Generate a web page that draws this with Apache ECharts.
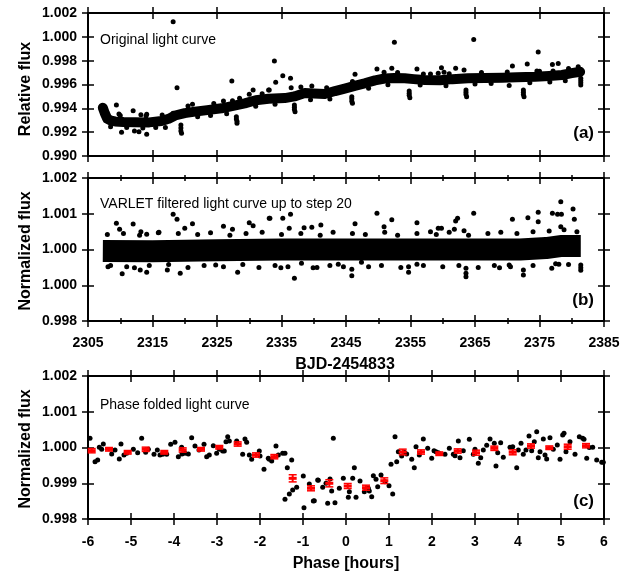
<!DOCTYPE html>
<html><head><meta charset="utf-8">
<script src="https://cdn.jsdelivr.net/npm/echarts@6/dist/echarts.min.js"></script>
<style>html,body{margin:0;padding:0;background:#fff}#c{width:635px;height:576px}</style>
</head><body><div id="c"></div>
<script>
// ---------- DATA ----------
const T0 = 2305; // BJD-2454833 axis origin
const xTicksBJD = [2305, 2315, 2325, 2335, 2345, 2355, 2365, 2375, 2385];
const yLabelsA = ['0.990', '0.992', '0.994', '0.996', '0.998', '1.000', '1.002'];
const yLabelsB = ['0.998', '1.000', '1.000', '1.001', '1.002'];
const yLabelsC = ['0.998', '0.999', '1.000', '1.001', '1.002'];
const xLabelsC = ['-6', '-5', '-4', '-3', '-2', '-1', '0', '1', '2', '3', '4', '5', '6'];

// (a) dense band centre (original light curve)
const bandA_t = [2307.3, 2307.6, 2308.0, 2308.6, 2309.2, 2310.5, 2312.3, 2314.5, 2316.4, 2317.5, 2318.5, 2320.0, 2321.6, 2323.5, 2325.7, 2327.5, 2329.3, 2331.0, 2333.0, 2335.5, 2337.0, 2338.6, 2340.0, 2341.7, 2343.3, 2344.8, 2346.5, 2347.9, 2349.5, 2351.0, 2352.5, 2354.1, 2355.5, 2357.2, 2359.6, 2361.5, 2363.9, 2366.5, 2369.2, 2371.5, 2374.3, 2376.5, 2378.5, 2380.0, 2381.3];
const bandA_f = [0.99405, 0.99360, 0.99312, 0.99296, 0.99290, 0.99285, 0.99283, 0.99282, 0.99294, 0.99312, 0.99340, 0.99360, 0.99372, 0.99385, 0.99400, 0.99420, 0.99442, 0.99468, 0.99480, 0.99486, 0.99500, 0.99528, 0.99525, 0.99520, 0.99545, 0.99566, 0.99590, 0.99610, 0.99635, 0.99650, 0.99655, 0.99652, 0.99645, 0.99638, 0.99636, 0.99645, 0.99652, 0.99655, 0.99657, 0.99660, 0.99665, 0.99672, 0.99680, 0.99695, 0.99707];
// (a) individual points (outliers, transit dips, band edges)
const ptsA_t = [2318.2, 2318.8, 2327.3, 2309.4, 2309.8, 2312.0, 2313.2, 2314.1, 2318.2, 2321.2, 2326.0, 2327.4, 2330.0, 2330.6, 2333.0, 2310.2, 2312.2, 2312.9, 2314.1,
  2333.9, 2352.5, 2333.1, 2334.1, 2335.2, 2336.4, 2336.5, 2339.7, 2346.4, 2349.8, 2350.9, 2352.1, 2356.0, 2358.1, 2359.3,
  2364.8, 2374.8, 2370.8, 2373.1, 2377.0, 2377.9, 2359.8, 2360.2, 2362.0, 2363.3, 2374.6, 2377.1,
  2319.4, 2319.4, 2319.4, 2319.5, 2328.0, 2328.0, 2328.1, 2328.1, 2337.0, 2337.0, 2337.0, 2337.1, 2345.9, 2345.9, 2345.9, 2346.0,
  2354.8, 2354.8, 2354.8, 2354.9, 2363.6, 2363.6, 2363.6, 2363.7, 2372.5, 2372.5, 2372.5, 2372.6, 2381.4, 2381.4, 2381.4, 2381.4,
  2308.5, 2311.0, 2313.5, 2315.5, 2317.0, 2322.0, 2324.0, 2326.5, 2331.0, 2334.0, 2339.5, 2342.5, 2348.5, 2351.5, 2356.5, 2360.5, 2365.0, 2367.5, 2370.3, 2373.5, 2376.6, 2379.0,
  2310.0, 2314.0, 2316.5, 2320.5, 2324.5, 2328.5, 2332.0, 2338.0, 2342.0, 2346.0, 2353.0, 2357.0, 2361.0, 2366.0, 2370.0, 2375.0, 2379.5, 2381.0];
const ptsA_f = [1.00127, 0.99573, 0.99629, 0.99428, 0.99352, 0.99380, 0.99347, 0.99350, 0.99358, 0.99434, 0.99461, 0.99464, 0.99518, 0.99554, 0.99554, 0.99199, 0.99210, 0.99204, 0.99182,
  0.99797, 0.99954, 0.99554, 0.99618, 0.99674, 0.99652, 0.99573, 0.99587, 0.99686, 0.99730, 0.99702, 0.99736, 0.99730, 0.99688, 0.99694,
  0.99977, 0.99873, 0.99756, 0.99773, 0.99767, 0.99776, 0.99741, 0.99702, 0.99736, 0.99722, 0.99713, 0.99713,
  0.99260, 0.99235, 0.99210, 0.99190, 0.99330, 0.99310, 0.99292, 0.99274, 0.99428, 0.99410, 0.99390, 0.99372, 0.99498, 0.99480, 0.99460, 0.99442,
  0.99545, 0.99527, 0.99510, 0.99489, 0.99554, 0.99535, 0.99516, 0.99498, 0.99554, 0.99535, 0.99516, 0.99498, 0.99652, 0.99633, 0.99615, 0.99596,
  0.99245, 0.99240, 0.99235, 0.99240, 0.99240, 0.99330, 0.99340, 0.99355, 0.99418, 0.99435, 0.99472, 0.99478, 0.99568, 0.99598, 0.99595, 0.99590, 0.99605, 0.99608, 0.99592, 0.99615, 0.99620, 0.99632,
  0.99340, 0.99335, 0.99345, 0.99420, 0.99440, 0.99485, 0.99522, 0.99580, 0.99572, 0.99625, 0.99700, 0.99688, 0.99690, 0.99700, 0.99705, 0.99712, 0.99735, 0.99750];

// (b) dense band centre (VARLET filtered)
const bandB_t = [2307.3, 2315.0, 2325.0, 2335.0, 2345.0, 2355.0, 2365.0, 2372.0, 2376.0, 2378.5, 2381.4];
const bandB_f = [0.99996, 0.99995, 0.99998, 1.00000, 1.00000, 1.00000, 1.00000, 1.00000, 1.00004, 1.00010, 1.00010];
// (b) individual points
const ptsB_t = [2309.4, 2318.2, 2318.8, 2309.9, 2312.0, 2313.2, 2314.1, 2315.9, 2320.0, 2321.2, 2326.0, 2327.4, 2330.0, 2330.6, 2333.1,
  2310.3, 2308.1, 2312.2, 2313.1, 2314.1, 2317.3, 2319.3, 2328.2, 2324.8,
  2337.0, 2333.2, 2335.2, 2336.4, 2336.2, 2338.5, 2339.7, 2341.1, 2346.4, 2349.8, 2350.9, 2352.1, 2356.0, 2358.1, 2359.3,
  2334.9, 2338.1, 2339.9, 2343.8, 2344.6, 2345.9, 2345.9, 2347.4, 2354.7, 2354.7, 2356.0,
  2364.8, 2378.3, 2380.2, 2374.8, 2377.0, 2377.8, 2378.4, 2373.2, 2370.8, 2374.8, 2380.4, 2378.3, 2362.3, 2362.0, 2359.8, 2361.8, 2363.3,
  2363.6, 2363.6, 2363.6, 2368.8, 2370.3, 2372.5, 2372.5, 2376.9, 2378.0, 2381.4, 2381.4, 2381.4,
  2308.0, 2310.5, 2313.0, 2316.0, 2319.0, 2322.0, 2324.0, 2327.0, 2329.5, 2332.0, 2335.0, 2338.0, 2341.0, 2343.0, 2346.0, 2348.0, 2351.0, 2353.0, 2356.0, 2359.0, 2361.0, 2364.0, 2367.0, 2369.0, 2371.5, 2374.0, 2376.5, 2378.8, 2380.8,
  2308.5, 2311.0, 2314.5, 2317.5, 2320.5, 2323.0, 2326.0, 2329.0, 2331.5, 2334.0, 2336.0, 2340.5, 2342.5, 2348.5, 2350.5, 2353.5, 2357.0, 2360.0, 2362.5, 2365.5, 2368.0, 2370.5, 2374.0, 2377.5, 2379.5];
const ptsB_f = [1.000733, 1.000985, 1.000845, 1.000565, 1.000713, 1.000498, 1.000425, 1.000470, 1.000593, 1.000722, 1.000648, 1.000565, 1.000750, 1.000666, 1.000873,
  0.999323, 0.999519, 0.999491, 0.999427, 0.999362, 0.999427, 0.999334, 0.999362, 0.999566,
  0.999194, 1.000873, 1.000873, 1.000985, 1.000593, 1.000610, 1.000620, 1.000685, 1.000722, 1.001013, 1.000638, 1.000834, 1.000750, 1.000498, 1.000593,
  0.999491, 0.999614, 0.999491, 0.999586, 0.999519, 0.999446, 0.999267, 0.999642, 0.999519, 0.999362, 0.999586,
  1.001013, 1.001337, 1.001133, 1.001040, 1.001013, 1.000985, 1.000985, 1.000889, 1.000845, 1.000778, 1.000845, 1.000638, 1.000873, 1.000797, 1.000593, 1.000565, 1.000526,
  0.999474, 0.999334, 0.999240, 0.999491, 0.999566, 0.999427, 0.999287, 0.999474, 0.999586, 0.999566, 0.999491, 0.999420,
  1.00042, 1.00045, 1.00040, 1.00048, 1.00045, 1.00042, 1.00047, 1.00040, 1.00045, 1.00048, 1.00042, 1.00045, 1.00040, 1.00048, 1.00045, 1.00042, 1.00048, 1.00040, 1.00045, 1.00042, 1.00048, 1.00040, 1.00045, 1.00048, 1.00045, 1.00050, 1.00052, 1.00055, 1.00050,
  0.99955, 0.99952, 0.99955, 0.99958, 0.99950, 0.99955, 0.99952, 0.99958, 0.99950, 0.99955, 0.99952, 0.99950, 0.99955, 0.99952, 0.99955, 0.99950, 0.99955, 0.99952, 0.99955, 0.99950, 0.99955, 0.99952, 0.99955, 0.99960, 0.99958];

// (c) phase folded points
const phaseC = [-5.953, -5.837, -5.775, -5.737, -5.644, -5.682, -5.449, -5.372, -5.272, -5.233, -5.163, -5.100, -4.946, -4.845, -4.752, -4.659, -4.597, -4.465, -4.388, -4.326, -4.263, -4.170, -4.077, -3.977, -3.899, -3.822, -3.814, -3.744, -3.667, -3.589, -3.512, -3.419, -3.302, -3.240, -3.179, -3.086, -3.008, -2.946, -2.868, -2.830, -2.751, -2.791, -2.713, -2.542, -2.403, -2.349, -2.310, -2.248, -2.194, -2.016, -2.000, -1.907, -1.807, -1.784, -1.728, -1.628, -1.574, -1.473, -1.419, -1.365, -1.263, -1.419, -1.318, -1.240, -1.147, -0.993, -0.977, -0.853, -0.760, -0.658,
  -0.737, -0.644, -0.542, -0.465, -0.426, -0.372, -0.333, -0.256, -0.295, -0.155, -0.062, 0.054, 0.078, 0.156, 0.194, 0.233, 0.326, 0.426, 0.519, 0.542, 0.598, 0.636, 0.698, 0.737, 0.814, 0.907, 1.000, 1.086, 1.047, 1.140, 1.179, 1.217, 1.295, 1.356, 1.411, 1.528, 1.588, 1.628, 1.705, 1.798, 1.900, 1.993, 2.047, 2.093, 2.147, 2.302, 2.403, 2.496, 2.535, 2.612, 2.651, 2.728, 2.868, 2.961, 3.000, 3.077, 3.133, 3.193, 3.272, 3.349, 3.449, 3.488, 3.528, 3.597, 3.658, 3.814, 3.877, 3.970, 4.007, 4.070, 4.123, 4.186, 4.256, 4.318, 4.379, 4.435, 4.472, 4.512, 4.589, 4.628, 4.667, 4.744, 4.821, 4.914, 4.977, 5.039, 5.070, 5.116, 5.209, 5.326, 5.426, 5.505, 5.535, 5.598, 5.658, 5.737, 5.830, 5.947, 5.984];
const fluxC = [1.000257, 0.999604, 0.999650, 1.000004, 1.000098, 0.999950, 0.999818, 0.999930, 0.999678, 1.000098, 0.999790, 0.999837, 0.999950, 0.999855, 1.000257, 0.999866, 0.999950, 0.999810, 0.999930, 0.999790, 0.999810, 0.999810, 1.000090, 1.000145, 0.999743, 1.000004, 0.999818, 0.999837, 0.999818, 1.000274, 1.000042, 0.999930, 1.000090, 0.999743, 0.999790, 1.000050, 0.999837, 0.999950, 0.999902, 0.999902, 1.000302, 1.000162, 1.000182, 1.000182, 0.999810, 1.000238, 1.000145, 0.999790, 0.999670, 0.999902, 0.999762, 0.999390, 0.999698, 0.999670, 0.999622, 1.000042, 0.999790, 0.999837, 0.999837, 0.999435, 0.999650, 0.998551, 0.998699, 0.998811, 0.998886, 0.999203, 0.998316, 0.998979, 0.998503, 0.999091,
  0.998512, 0.999082, 0.998886, 0.998999, 0.998439, 0.999119, 0.998783, 0.998456, 1.000257, 0.998859, 0.999138, 0.998607, 0.998764, 0.999138, 0.999435, 0.998607, 0.999063, 0.998764, 0.998859, 0.998783, 0.998624, 0.999211, 0.999110, 0.998903, 0.999231, 0.999043, 0.998931, 0.998699, 0.999530, 1.000302, 0.999604, 0.999883, 0.999762, 0.999866, 0.999818, 0.999670, 0.999435, 1.000022, 0.999790, 1.000238, 0.999978, 0.999698, 0.999911, 0.999883, 0.999855, 0.999810, 0.999978, 0.999810, 0.999771, 1.000182, 0.999715, 0.999911, 1.000229, 0.999810, 0.999950, 0.999558, 0.999715, 0.999930, 1.000062, 1.000238, 1.000118, 0.999483, 0.999855, 1.000134, 0.999726, 1.000004, 1.000022, 0.999435, 0.999930, 1.000118, 0.999810, 0.999930, 1.000322, 0.999911, 1.000162, 1.000442, 0.999715, 0.999883, 1.000238, 0.999790, 0.999678, 1.000274, 0.999950, 1.000070, 0.999670, 1.000350, 1.000397, 0.999883, 1.000162, 0.999810, 1.000302, 1.000257, 1.000229, 0.999698, 1.000000, 1.000004, 0.999650, 0.999586, 0.999586];
// (c) binned means with error bars (red)
const binPhase = [-5.914, -5.512, -5.077, -4.658, -4.226, -3.798, -3.372, -2.947, -2.519, -2.093, -1.667, -1.240, -0.814, -0.388, 0.040, 0.465, 0.891, 1.319, 1.744, 2.170, 2.598, 3.023, 3.449, 3.877, 4.302, 4.728, 5.156, 5.581];
const binFlux = [0.999911, 0.999950, 0.999866, 0.999950, 0.999866, 0.999930, 0.999950, 1.000006, 1.000098, 0.999790, 0.999743, 0.999138, 0.998859, 0.998999, 0.998923, 0.998876, 0.999071, 0.999874, 0.999874, 0.999827, 0.999902, 0.999855, 0.999978, 0.999866, 1.000042, 0.999994, 1.000022, 1.000050];
const binErr = [0.00006, 0.00005, 0.00005, 0.00006, 0.00005, 0.00006, 0.00005, 0.00005, 0.00006, 0.00006, 0.00006, 0.00010, 0.00007, 0.00010, 0.00007, 0.00007, 0.00008, 0.00008, 0.00006, 0.00005, 0.00006, 0.00007, 0.00006, 0.00007, 0.00006, 0.00005, 0.00007, 0.00006];

// ---------- BUILD ----------
const FONT = 'Liberation Sans, Arial, Helvetica, sans-serif';
const zip = (a, b, off) => a.map((v, i) => [v - (off || 0), b[i]]);

const grids = [
  {left: 88, top: 13, width: 516, height: 143},
  {left: 88, top: 178, width: 516, height: 143},
  {left: 88, top: 376, width: 516, height: 143}
];

const xAxes = [], yAxes = [];
function addAxes(list, g, base, pos, showLabel, labelFmt, margin, minor) {
  const opp = {bottom: 'top', left: 'right'}[pos];
  const tickStyle = {color: '#000', width: 1.5};
  const mk = (p, inside, line, label) => Object.assign({
    gridIndex: g, type: 'value', position: p,
    axisLine: {show: line, onZero: false, lineStyle: {color: '#000', width: 2}},
    axisTick: {show: true, inside: inside, length: 6, lineStyle: tickStyle},
    minorTick: {show: minor, splitNumber: 2, length: 3, lineStyle: tickStyle},
    splitLine: {show: false},
    axisLabel: {show: label, margin: margin, formatter: labelFmt,
      fontFamily: FONT, fontSize: 14, fontWeight: 'bold', color: '#000'}
  }, base);
  list.push(mk(pos, false, true, showLabel));
  list.push(mk(pos, true, false, false));
  list.push(mk(opp, false, true, false));
  list.push(mk(opp, true, false, false));
}
const bjdX = {min: 0, max: 80, interval: 10};
const bjdFmt = v => String(xTicksBJD[Math.round(v / 10)]);
addAxes(xAxes, 0, bjdX, 'bottom', false, bjdFmt, 15, false);
addAxes(yAxes, 0, {min: 0.990, max: 1.002, interval: 0.002}, 'left', true,
  v => yLabelsA[Math.round((v - 0.990) / 0.002)], 11, false);
addAxes(xAxes, 1, bjdX, 'bottom', true, bjdFmt, 15, true);
addAxes(yAxes, 1, {min: 0.998, max: 1.002, interval: 0.001}, 'left', true,
  v => yLabelsB[Math.round((v - 0.998) / 0.001)], 11, false);
addAxes(xAxes, 2, {min: -6, max: 6, interval: 1}, 'bottom', true,
  v => xLabelsC[Math.round(v + 6)], 16, false);
addAxes(yAxes, 2, {min: 0.998, max: 1.002, interval: 0.001}, 'left', true,
  v => yLabelsC[Math.round((v - 0.998) / 0.001)], 11, false);

const dot = {color: '#000', opacity: 1};
const series = [
  {type: 'line', xAxisIndex: 0, yAxisIndex: 0, data: zip(bandA_t, bandA_f, T0), showSymbol: false, symbol: 'none',
    lineStyle: {color: '#000', width: 10, cap: 'round', join: 'round', opacity: 1}, z: 2, silent: true},
  {type: 'scatter', xAxisIndex: 0, yAxisIndex: 0, data: zip(ptsA_t, ptsA_f, T0), symbolSize: 5,
    itemStyle: dot, z: 3, silent: true},
  {type: 'line', xAxisIndex: 4, yAxisIndex: 4, data: zip(bandB_t, bandB_f, T0), showSymbol: false, symbol: 'none',
    lineStyle: {color: '#000', width: 22, cap: 'butt', join: 'round', opacity: 1}, z: 2, silent: true},
  {type: 'scatter', xAxisIndex: 4, yAxisIndex: 4, data: zip(ptsB_t, ptsB_f, T0), symbolSize: 5,
    itemStyle: dot, z: 3, silent: true},
  {type: 'scatter', xAxisIndex: 8, yAxisIndex: 8, data: zip(phaseC, fluxC), symbolSize: 5,
    itemStyle: dot, z: 3, silent: true},
  {type: 'custom', xAxisIndex: 8, yAxisIndex: 8, z: 4, silent: true,
    data: binPhase.map((p, i) => [p, binFlux[i], binErr[i]]),
    encode: {x: 0, y: 1},
    renderItem: function (params, api) {
      const x = api.value(0), y = api.value(1), e = api.value(2);
      const t = api.coord([x, y + e]), b = api.coord([x, y - e]), c = api.coord([x, y]);
      const hw = 4, col = '#ff0000';
      return {type: 'group', children: [
        {type: 'line', shape: {x1: t[0], y1: t[1], x2: b[0], y2: b[1]}, style: {stroke: col, lineWidth: 2}},
        {type: 'line', shape: {x1: t[0] - hw, y1: t[1], x2: t[0] + hw, y2: t[1]}, style: {stroke: col, lineWidth: 1.5}},
        {type: 'line', shape: {x1: b[0] - hw, y1: b[1], x2: b[0] + hw, y2: b[1]}, style: {stroke: col, lineWidth: 1.5}},
        {type: 'rect', shape: {x: c[0] - hw, y: c[1] - 1.5, width: 2 * hw, height: 3}, style: {fill: col}}
      ]};
    }}
];

const txt = (x, y, text, size, weight, align, rot) => ({
  type: 'text', x: x, y: y, rotation: rot || 0, silent: true,
  style: {text: text, fontFamily: FONT, fontSize: size, fontWeight: weight, fill: '#000',
    align: align || 'left', verticalAlign: 'middle'}
});
const graphic = [
  txt(100, 40, 'Original light curve', 14, 'normal'),
  txt(100, 204, 'VARLET filtered light curve up to step 20', 14, 'normal'),
  txt(100, 405, 'Phase folded light curve', 14, 'normal'),
  txt(594, 133, '(a)', 17, 'bold', 'right'),
  txt(594, 300, '(b)', 17, 'bold', 'right'),
  txt(594, 501, '(c)', 17, 'bold', 'right'),
  txt(26, 89, 'Relative flux', 16, 'bold', 'center', Math.PI / 2),
  txt(26, 251, 'Normalized flux', 16, 'bold', 'center', Math.PI / 2),
  txt(26, 449, 'Normalized flux', 16, 'bold', 'center', Math.PI / 2),
  txt(345, 365, 'BJD-2454833', 16, 'bold', 'center'),
  txt(346, 564, 'Phase [hours]', 16, 'bold', 'center')
];

const chart = echarts.init(document.getElementById('c'), null, {renderer: 'canvas'});
chart.setOption({
  animation: false,
  backgroundColor: '#fff',
  grid: grids,
  xAxis: xAxes,
  yAxis: yAxes,
  series: series,
  graphic: graphic
});
</script>
</body></html>
